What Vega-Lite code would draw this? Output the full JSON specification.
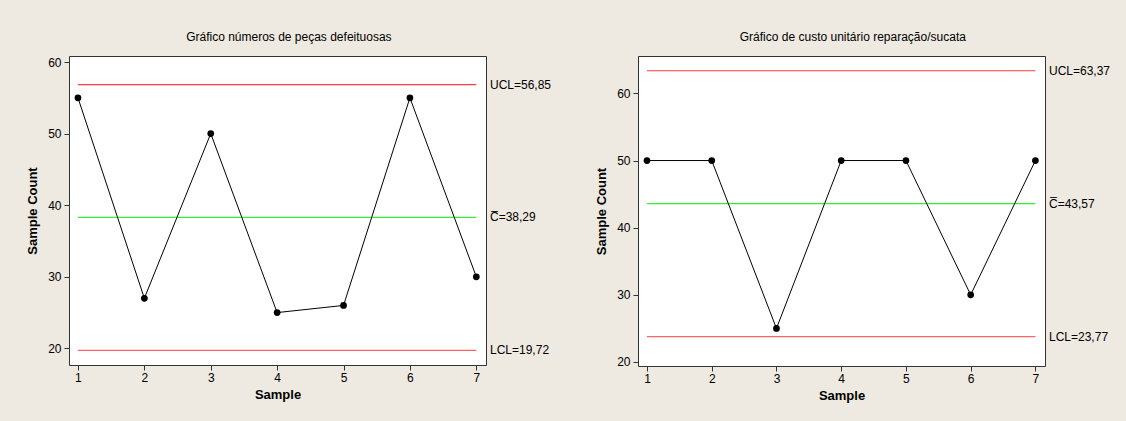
{
  "$schema": "https://vega.github.io/schema/vega-lite/v6.json",
  "background": "#eeeae1",
  "padding": {"left": 26, "top": 30, "right": 16, "bottom": 19},
  "datasets": {
    "left": [
      {"sample": 1, "count": 55}, {"sample": 2, "count": 27}, {"sample": 3, "count": 50},
      {"sample": 4, "count": 25}, {"sample": 5, "count": 26}, {"sample": 6, "count": 55},
      {"sample": 7, "count": 30}
    ],
    "leftLimits": [
      {"limit": "UCL", "value": 56.85, "label": "UCL=56,85"},
      {"limit": "CL", "value": 38.29, "label": "C̅=38,29"},
      {"limit": "LCL", "value": 19.72, "label": "LCL=19,72"}
    ],
    "right": [
      {"sample": 1, "count": 50}, {"sample": 2, "count": 50}, {"sample": 3, "count": 25},
      {"sample": 4, "count": 50}, {"sample": 5, "count": 50}, {"sample": 6, "count": 30},
      {"sample": 7, "count": 50}
    ],
    "rightLimits": [
      {"limit": "UCL", "value": 63.37, "label": "UCL=63,37"},
      {"limit": "CL", "value": 43.57, "label": "C̅=43,57"},
      {"limit": "LCL", "value": 23.77, "label": "LCL=23,77"}
    ]
  },
  "bounds": "flush",
  "spacing": 152,
  "hconcat": [
    {
      "width": 417,
      "height": 309,
      "title": {"text": "Gráfico  números de peças defeituosas", "frame": "bounds", "anchor": "middle", "offset": 12},
      "layer": [
        {
          "data": {"name": "leftLimits"},
          "mark": {"type": "rule", "strokeWidth": 1.2},
          "encoding": {
            "x": {"datum": 1, "type": "quantitative", "scale": {"domain": [0.865, 7.146], "nice": false, "zero": false}},
            "x2": {"datum": 7},
            "y": {"field": "value", "type": "quantitative", "scale": {"domain": [17.68, 60.84], "nice": false, "zero": false}},
            "color": {"field": "limit", "type": "nominal", "scale": {"domain": ["UCL", "CL", "LCL"], "range": ["#ff3b3b", "#33f033", "#ff6464"]}, "legend": null}
          }
        },
        {
          "data": {"name": "leftLimits"},
          "mark": {"type": "text", "align": "left", "baseline": "middle", "dx": 4, "fontSize": 12, "color": "#000000"},
          "encoding": {
            "x": {"value": "width"},
            "y": {"field": "value", "type": "quantitative"},
            "text": {"field": "label"}
          }
        },
        {
          "data": {"name": "left"},
          "mark": {"type": "line", "color": "#000000", "strokeWidth": 1},
          "encoding": {
            "x": {"field": "sample", "type": "quantitative", "title": "Sample", "axis": {"values": [1, 2, 3, 4, 5, 6, 7], "format": "d"}},
            "y": {"field": "count", "type": "quantitative", "title": "Sample Count", "axis": {"values": [20, 30, 40, 50, 60]}}
          }
        },
        {
          "data": {"name": "left"},
          "mark": {"type": "point", "filled": true, "color": "#000000", "size": 45, "opacity": 1},
          "encoding": {
            "x": {"field": "sample", "type": "quantitative"},
            "y": {"field": "count", "type": "quantitative"}
          }
        }
      ]
    },
    {
      "width": 407,
      "height": 310,
      "title": {"text": "Gráfico de custo unitário reparação/sucata", "frame": "bounds", "anchor": "middle", "offset": 12},
      "layer": [
        {
          "data": {"name": "rightLimits"},
          "mark": {"type": "rule", "strokeWidth": 1.2},
          "encoding": {
            "x": {"datum": 1, "type": "quantitative", "scale": {"domain": [0.861, 7.148], "nice": false, "zero": false}},
            "x2": {"datum": 7},
            "y": {"field": "value", "type": "quantitative", "scale": {"domain": [19.4, 65.57], "nice": false, "zero": false}},
            "color": {"field": "limit", "type": "nominal", "scale": {"domain": ["UCL", "CL", "LCL"], "range": ["#d80000", "#33f033", "#ff6464"]}, "legend": null}
          }
        },
        {
          "data": {"name": "rightLimits"},
          "mark": {"type": "text", "align": "left", "baseline": "middle", "dx": 4, "fontSize": 12, "color": "#000000"},
          "encoding": {
            "x": {"value": "width"},
            "y": {"field": "value", "type": "quantitative"},
            "text": {"field": "label"}
          }
        },
        {
          "data": {"name": "right"},
          "mark": {"type": "line", "color": "#000000", "strokeWidth": 1},
          "encoding": {
            "x": {"field": "sample", "type": "quantitative", "title": "Sample", "axis": {"values": [1, 2, 3, 4, 5, 6, 7], "format": "d"}},
            "y": {"field": "count", "type": "quantitative", "title": "Sample Count", "axis": {"values": [20, 30, 40, 50, 60]}}
          }
        },
        {
          "data": {"name": "right"},
          "mark": {"type": "point", "filled": true, "color": "#000000", "size": 45, "opacity": 1},
          "encoding": {
            "x": {"field": "sample", "type": "quantitative"},
            "y": {"field": "count", "type": "quantitative"}
          }
        }
      ]
    }
  ],
  "resolve": {"scale": {"x": "independent", "y": "independent"}},
  "config": {
    "font": "Liberation Sans",
    "view": {"fill": "#ffffff", "stroke": "#333333", "strokeWidth": 1},
    "title": {"font": "Liberation Sans", "fontSize": 12, "fontWeight": "normal", "color": "#000000"},
    "text": {"font": "Liberation Sans"},
    "axis": {
      "domain": false,
      "grid": false,
      "ticks": true,
      "tickSize": 5,
      "tickColor": "#333333",
      "labelFont": "Liberation Sans",
      "labelFontSize": 12,
      "labelColor": "#000000",
      "titleFont": "Liberation Sans",
      "titleFontSize": 13,
      "titleFontWeight": "bold",
      "titleColor": "#000000"
    },
    "axisX": {"labelPadding": 2, "titlePadding": 5, "labelAngle": 0},
    "axisY": {"labelPadding": 3, "titlePadding": 8}
  }
}
